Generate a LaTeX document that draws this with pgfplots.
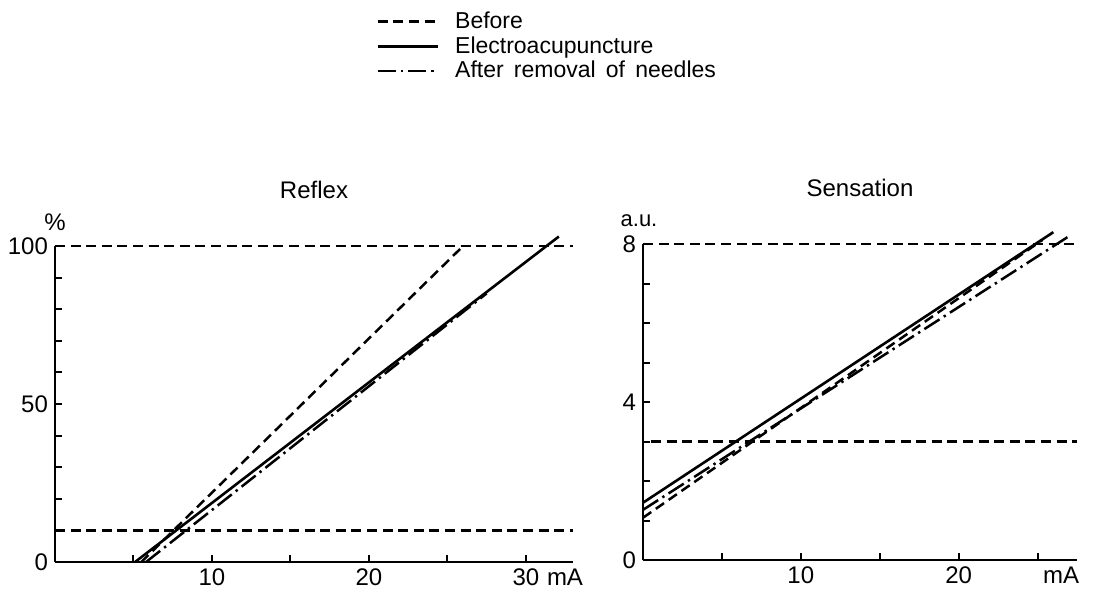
\documentclass[border=0pt]{standalone}
\usepackage{fontspec}
\setmainfont{Liberation Sans}
\usepackage{pgfplots}
\pgfplotsset{compat=1.18}

\pgfplotsset{
  panel/.style={
    scale only axis,
    height=158pt,
    axis x line=bottom, axis y line=left,
    axis line style={-, line width=1.4pt},
    tick align=inside,
    major tick length=3.5pt,
    tick style={line width=1pt, black},
    clip=false,
    ymin=0, xmin=0,
    /pgf/number format/assume math mode=true,
    tick label style={font=\fontsize{12}{14}\selectfont},
    title style={font=\fontsize{12}{14}\selectfont, yshift=14pt},
  },
  before/.style={black, line width=1.25pt, dash pattern=on 5pt off 2.8pt},
  electro/.style={black, line width=1.3pt},
  after/.style={black, line width=1.25pt, dash pattern=on 9pt off 2.5pt on 1.2pt off 2.5pt},
}

\begin{document}
\begin{tikzpicture}
\useasboundingbox (-27.5pt,-19pt) rectangle (520.5pt,281pt);

% Reflex
\begin{axis}[panel,
    at={(0pt,0pt)}, anchor=south west,
    width=259pt,
    xmax=33, ymax=100,
    xtick={5,10,...,30}, xticklabels={,10,,20,,30},
    ytick={0,10,...,100}, yticklabels={0,,,,,50,,,,,100},
    title={Reflex},
    legend style={at={(rel axis cs:0.62,1.755)}, anchor=north west, draw=none, fill=none,
      font=\fontsize{11.5}{13}\selectfont, row sep=-1.5pt, inner sep=0pt},
    legend cell align=left,
    legend image code/.code={\draw[#1] (0pt,0pt) -- (30pt,0pt); \path (36pt,0pt);},
]
\addplot[before] coordinates {(5.5,0) (26,100)};
\addlegendentry{Before}
\addplot[electro] coordinates {(5.1,0) (32.1,103)};
\addlegendentry{Electroacupuncture}
\addplot[after] coordinates {(5.8,0) (27.5,85)};
\addlegendentry{After\, removal\, of\, needles}
\addplot[before, forget plot] coordinates {(0,100) (33,100)};
\addplot[before, forget plot] coordinates {(0,10) (33,10)};
\node[anchor=south, font=\fontsize{12}{14}\selectfont] at (rel axis cs:0,1) [yshift=4pt] {\%};
\node[anchor=north, font=\fontsize{12}{14}\selectfont] at (rel axis cs:1,0) [xshift=-4pt] {mA};
\end{axis}

% Sensation
\begin{axis}[panel,
    at={(294pt,1pt)}, anchor=south west,
    width=217pt,
    xmax=27.5, ymax=8,
    xtick={5,10,...,25}, xticklabels={,10,,20,},
    ytick={0,1,...,8}, yticklabels={0,,,,4,,,,8},
    title={Sensation},
]
\addplot[before] coordinates {(0,1.07) (25.3,8.1)};
\addplot[electro] coordinates {(0,1.45) (26.0,8.3)};
\addplot[after] coordinates {(0,1.27) (27.0,8.2)};
\addplot[before] coordinates {(0,8) (27.5,8)};
\addplot[before] coordinates {(0.5,3) (27.5,3)};
\node[anchor=south, font=\fontsize{11}{13}\selectfont] at (rel axis cs:0,1) [yshift=5pt, xshift=-2pt] {a.u.};
\node[anchor=north, font=\fontsize{12}{14}\selectfont] at (rel axis cs:1,0) [xshift=-8pt] {mA};
\end{axis}
\end{tikzpicture}
\end{document}
